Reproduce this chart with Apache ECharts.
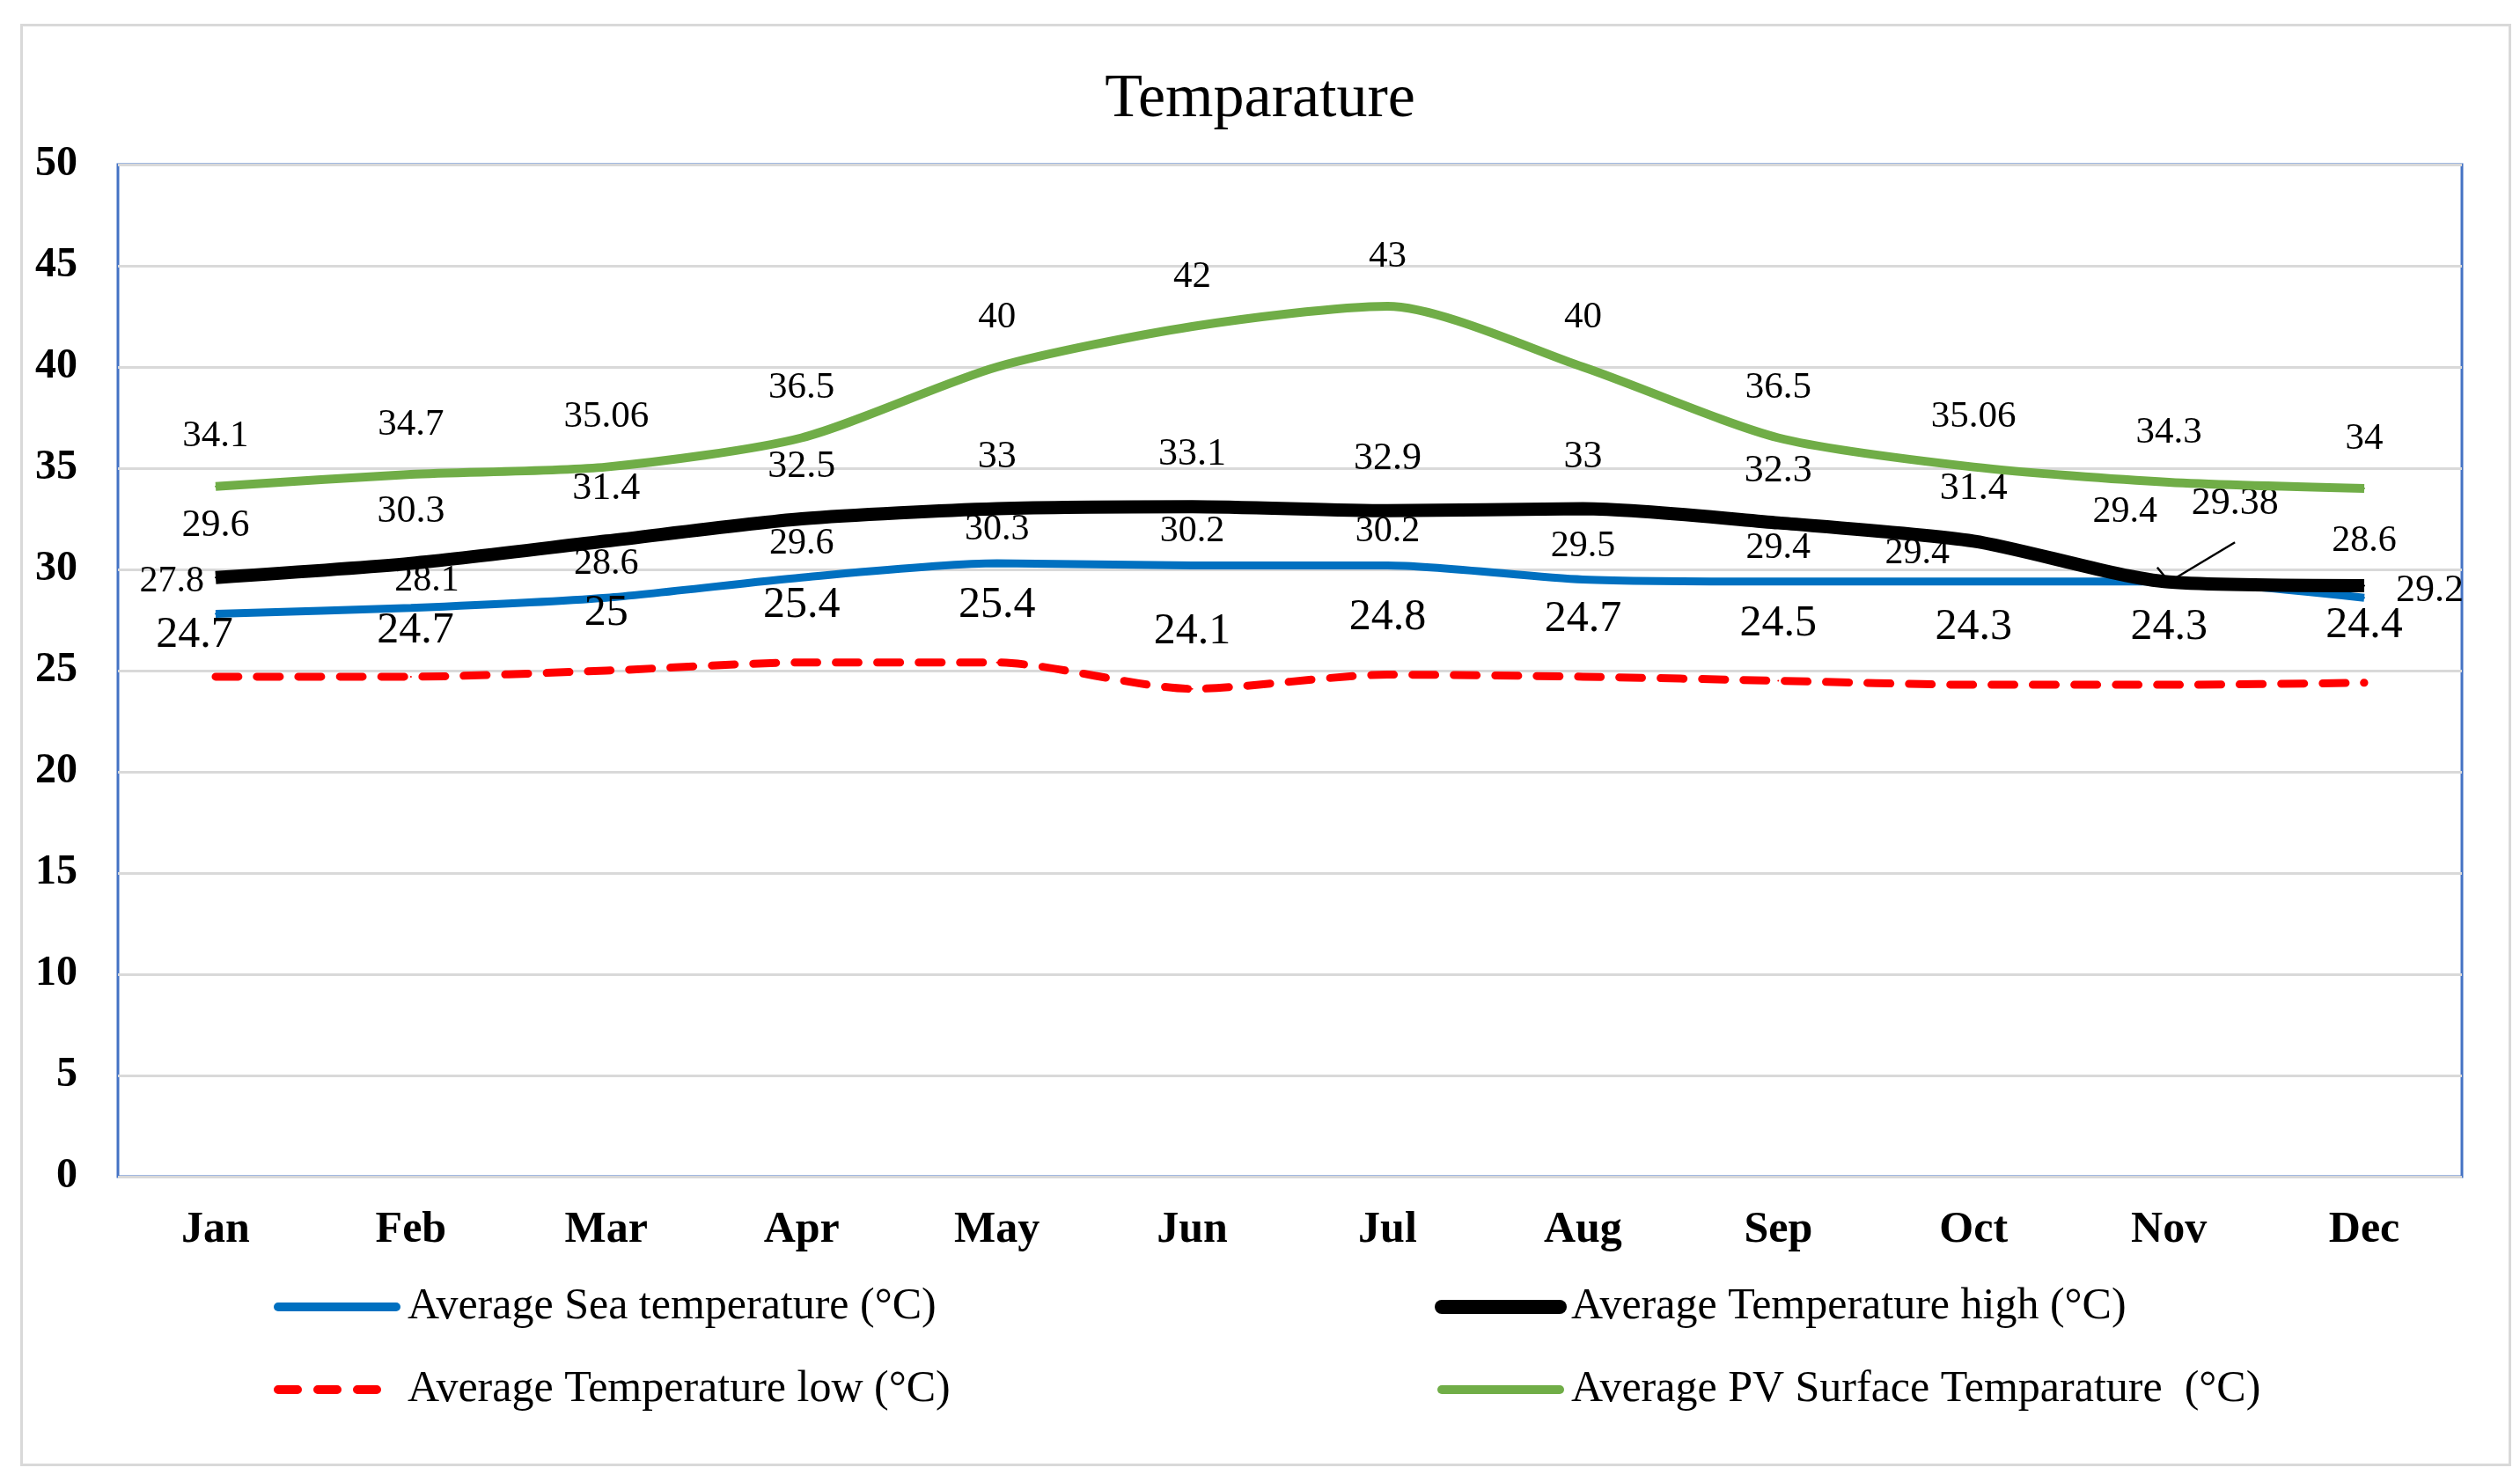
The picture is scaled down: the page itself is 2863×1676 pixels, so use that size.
<!DOCTYPE html>
<html>
<head>
<meta charset="utf-8">
<script src="https://cdn.jsdelivr.net/npm/echarts@6/dist/echarts.min.js"></script>
<style>
html,body{margin:0;padding:0;background:#fff;}
#chart{width:2863px;height:1676px;}
</style>
</head>
<body>
<div id="chart"></div>
<script>
const months = ['Jan','Feb','Mar','Apr','May','Jun','Jul','Aug','Sep','Oct','Nov','Dec'];
const seaTemp = [27.8, 28.1, 28.6, 29.6, 30.3, 30.2, 30.2, 29.5, 29.4, 29.4, 29.4, 28.6];
const highTemp = [29.6, 30.3, 31.4, 32.5, 33, 33.1, 32.9, 33, 32.3, 31.4, 29.38, 29.2];
const lowTemp = [24.7, 24.7, 25, 25.4, 25.4, 24.1, 24.8, 24.7, 24.5, 24.3, 24.3, 24.4];
const pvTemp = [34.1, 34.7, 35.06, 36.5, 40, 42, 43, 40, 36.5, 35.06, 34.3, 34];
const yTicks = {min: 0, max: 50, interval: 5};

const names = {
  sea: 'Average Sea temperature (°C)',
  high: 'Average Temperature high (°C)',
  low: 'Average Temperature low (°C)',
  pv: 'Average PV Surface Temparature  (°C)'
};
const FONT = 'Liberation Serif';

function guide() { return {show: true, showAbove: true, lineStyle: {color: '#000', width: 2.5}}; }
const seaLabelTweaks = {
  0: {label: {position: 'left', distance: 12, offset: [0, -37]}},
  1: {label: {offset: [18, 7]}},
  9: {label: {offset: [-64, 6]}},
  10: {label: {offset: [-50, -41]}, labelLine: guide()},
  11: {label: {offset: [0, -26]}}
};
const highLabelTweaks = {
  10: {label: {offset: [75, -30]}, labelLine: guide()},
  11: {label: {position: 'right', distance: 35, offset: [0, 6]}}
};
const lowLabelTweaks = {
  0: {label: {offset: [-24, 18]}},
  1: {label: {offset: [5, 13]}}
};

function withTweaks(values, tweaks) {
  return values.map((v, i) => tweaks[i] ? Object.assign({value: v}, tweaks[i]) : v);
}

const chart = echarts.init(document.getElementById('chart'), null, {renderer: 'canvas'});
const labelBase = {show: true, color: '#000', fontFamily: FONT, fontSize: 43};
const legendText = {fontFamily: FONT, fontSize: 50, color: '#000', padding: [0, 0, 0, 8]};
const hideSym = {opacity: 0};

chart.setOption({
  animation: false,
  backgroundColor: '#fff',
  graphic: [{
    type: 'rect', left: 22, top: 26, silent: true,
    shape: {width: 2827, height: 1636},
    style: {fill: 'none', stroke: '#D9D9D9', lineWidth: 3}
  }],
  title: {
    text: 'Temparature', left: 'center', top: 74,
    textStyle: {fontFamily: FONT, fontSize: 70, fontWeight: 'normal', color: '#000'}
  },
  legend: [{
    id: 'legA', left: 311, top: 1460, orient: 'vertical', itemGap: 44, padding: 0,
    itemWidth: 134, itemHeight: 16, textStyle: legendText,
    data: [
      {name: names.sea, itemStyle: hideSym, lineStyle: {width: 10, cap: 'round'}},
      {name: names.low, itemStyle: hideSym, lineStyle: {width: 10, cap: 'round', type: [22, 23]}}
    ]
  }, {
    id: 'legB', left: 1630, top: 1460, orient: 'vertical', itemGap: 44, padding: 0,
    itemWidth: 134, itemHeight: 16, textStyle: legendText,
    data: [
      {name: names.high, itemStyle: hideSym, lineStyle: {width: 16, cap: 'round'}},
      {name: names.pv, itemStyle: hideSym, lineStyle: {width: 10, cap: 'round'}}
    ]
  }],
  grid: {
    left: 134, right: 66, top: 187, bottom: 339,
    show: true, borderColor: '#4472C4', borderWidth: 3, backgroundColor: '#fff'
  },
  xAxis: {
    type: 'category', data: months, boundaryGap: true,
    axisLine: {show: false}, axisTick: {show: false},
    axisLabel: {fontFamily: FONT, fontSize: 50, fontWeight: 'bold', color: '#000', margin: 36}
  },
  yAxis: {
    type: 'value', min: yTicks.min, max: yTicks.max, interval: yTicks.interval,
    axisLine: {show: false}, axisTick: {show: false},
    axisLabel: {fontFamily: FONT, fontSize: 48, fontWeight: 'bold', color: '#000', margin: 46},
    splitLine: {lineStyle: {color: '#D9D9D9', width: 3}}
  },
  series: [{
    name: names.sea, type: 'line', smooth: 0.25,
    symbol: 'circle', symbolSize: 2,
    itemStyle: {color: '#0070C0'},
    lineStyle: {color: '#0070C0', width: 9},
    label: Object.assign({}, labelBase, {position: 'top', distance: 16, fontSize: 42}),
    data: withTweaks(seaTemp, seaLabelTweaks), z: 2
  }, {
    name: names.high, type: 'line', smooth: 0.25,
    symbol: 'circle', symbolSize: 2,
    itemStyle: {color: '#000'},
    lineStyle: {color: '#000', width: 15},
    label: Object.assign({}, labelBase, {position: 'top', distance: 36, fontSize: 44}),
    data: withTweaks(highTemp, highLabelTweaks), z: 3
  }, {
    name: names.low, type: 'line', smooth: 0.25,
    symbol: 'circle', symbolSize: 2,
    itemStyle: {color: '#FF0000'},
    lineStyle: {color: '#FF0000', width: 9, type: [26, 21], cap: 'round'},
    label: Object.assign({}, labelBase, {position: 'top', distance: 39, fontSize: 50}),
    data: withTweaks(lowTemp, lowLabelTweaks), z: 4
  }, {
    name: names.pv, type: 'line', smooth: 0.25,
    symbol: 'circle', symbolSize: 2,
    itemStyle: {color: '#70AD47'},
    lineStyle: {color: '#70AD47', width: 10},
    label: Object.assign({}, labelBase, {position: 'top', distance: 34, fontSize: 43}),
    data: pvTemp, z: 5
  }]
});
</script>
</body>
</html>
